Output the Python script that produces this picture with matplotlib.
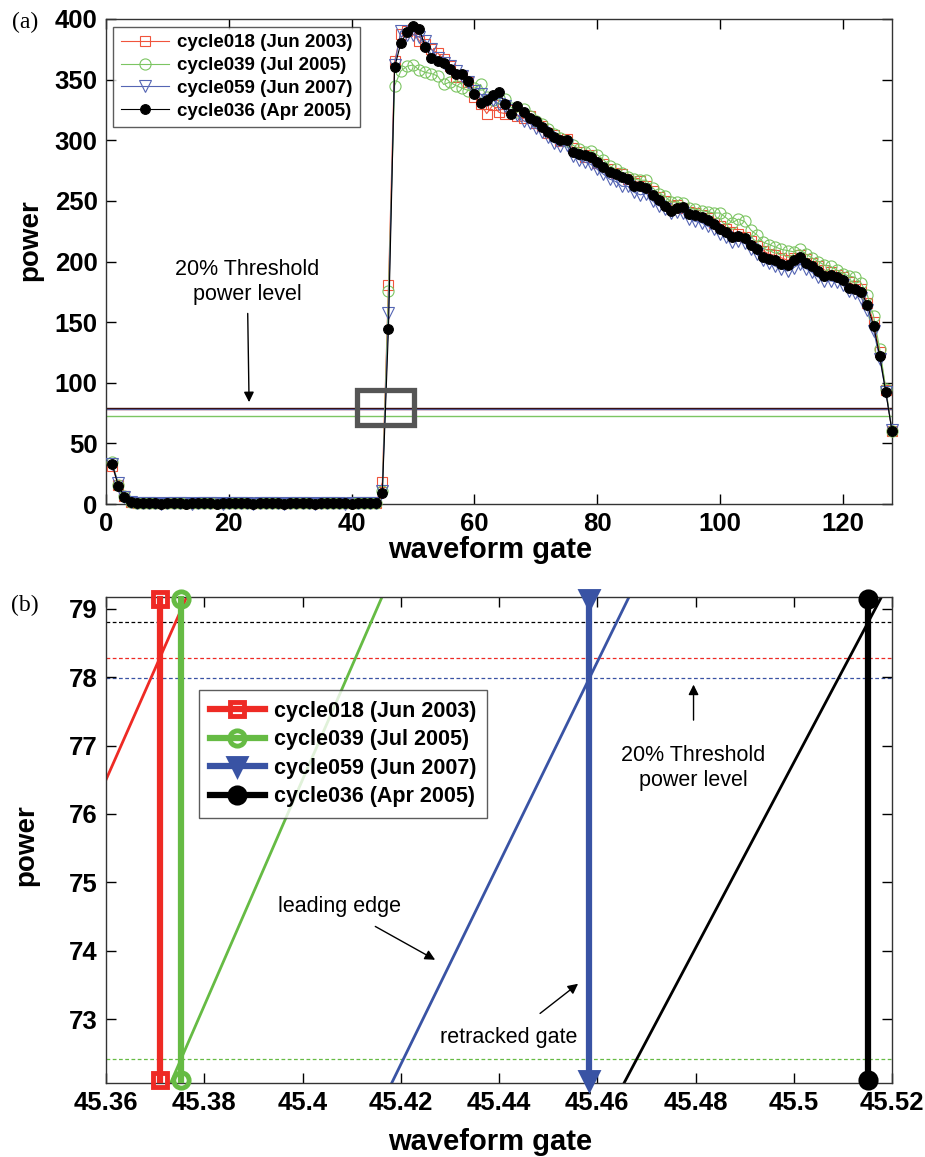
import matplotlib.pyplot as plt
from matplotlib.patches import Rectangle
import numpy as np

plt.rcParams['font.family'] = ['Liberation Sans', 'DejaVu Sans']

# ---- data ----
gates = np.arange(1, 129)

cycle018 = [31, 16, 7, 2,
            0.9, 0.7, 0.8, 0.6, 0.7, 0.8, 0.7, 0.6, 0.8, 0.7, 0.7, 0.8, 0.6, 0.7, 0.8, 0.7, 0.7, 0.6, 0.8, 0.7,
            0.7, 0.8, 0.6, 0.7, 0.7, 0.8, 0.7, 0.6, 0.8, 0.7, 0.7, 0.8, 0.6, 0.7, 0.8, 0.7, 0.7, 0.6, 0.8, 0.9,
            18, 180.5, 365, 388, 390, 391.4, 382, 379, 375, 372,
            367, 361, 352, 353, 348, 336, 330, 322, 329, 323,
            322, 325, 320, 318, 320, 314, 312, 306, 304, 299,
            301, 294, 290, 286, 288, 281, 280, 276, 273, 272,
            268, 265, 266, 262, 258, 253, 250, 246, 247, 244,
            241, 240, 238, 236, 232, 229, 227, 224, 223, 220,
            217, 213, 209, 206, 205, 203, 201, 203, 205, 202,
            199, 196, 193, 191, 189, 187, 183, 180, 177, 166,
            150, 125, 94, 60]

cycle039 = [35, 16, 7, 2,
            1.0, 0.8, 0.7, 0.8, 0.9, 0.7, 0.8, 0.8, 0.7, 0.9, 0.8, 0.7, 0.8, 0.8, 0.9, 0.7, 0.8, 0.8, 0.7, 0.9,
            0.8, 0.7, 0.8, 0.8, 0.9, 0.7, 0.8, 0.8, 0.7, 0.9, 0.8, 0.7, 0.8, 0.8, 0.9, 0.7, 0.8, 0.8, 0.7, 1.0,
            10.5, 175.5, 345, 357, 361, 362.1, 358, 356, 355, 353,
            346, 348, 345, 343, 341, 343, 346, 336, 333, 335,
            334, 327, 323, 326, 320, 316, 313, 309, 305, 302,
            299, 296, 293, 290, 291, 288, 284, 279, 276, 273,
            270, 268, 267, 267, 261, 256, 254, 249, 249, 248,
            244, 243, 242, 241, 240, 240, 236, 232, 235, 233,
            226, 222, 216, 214, 212, 210, 209, 208, 210, 206,
            203, 200, 197, 196, 193, 190, 188, 187, 182, 172,
            155, 128, 95, 60]

cycle059 = [33, 17, 6, 2,
            0.8, 0.5, 0.6, 0.5, 0.4, 0.6, 0.5, 0.5, 0.6, 0.4, 0.5, 0.6, 0.5, 0.5, 0.4, 0.6, 0.5, 0.5, 0.6, 0.4,
            0.5, 0.6, 0.5, 0.5, 0.4, 0.6, 0.5, 0.5, 0.6, 0.4, 0.5, 0.6, 0.5, 0.5, 0.4, 0.6, 0.5, 0.5, 0.6, 0.8,
            10.6, 157.6, 362, 389.9, 387, 387, 385, 382, 375, 368,
            364, 361, 357, 353, 348, 341, 338, 333, 333, 330,
            328, 325, 321, 316, 314, 310, 307, 303, 298, 295,
            296, 287, 284, 282, 280, 276, 272, 268, 266, 262,
            262, 257, 255, 256, 250, 246, 243, 240, 241, 240,
            235, 233, 232, 229, 227, 223, 220, 216, 217, 215,
            210, 206, 201, 199, 196, 194, 192, 195, 198, 194,
            191, 187, 184, 184, 183, 181, 176, 174, 170, 160,
            143, 120, 92, 61]

cycle036 = [33, 15, 6, 2,
            1.0, 0.6, 0.5, 0.5, 0.4, 0.5, 0.6, 0.5, 0.4, 0.5, 0.5, 0.6, 0.5, 0.4, 0.5, 0.5, 0.6, 0.5, 0.5, 0.4,
            0.5, 0.6, 0.5, 0.5, 0.4, 0.5, 0.5, 0.6, 0.5, 0.4, 0.5, 0.5, 0.6, 0.5, 0.5, 0.4, 0.5, 0.6, 0.5, 0.8,
            9, 144.5, 360, 380, 389, 394, 392, 377, 368, 365,
            364, 359, 355, 355, 349, 338, 331, 333, 337, 340,
            330, 322, 328, 323, 318, 316, 311, 307, 303, 300,
            300, 290, 289, 288, 286, 282, 278, 274, 272, 270,
            268, 262, 262, 261, 255, 251, 246, 242, 244, 245,
            239, 238, 237, 234, 231, 227, 224, 220, 221, 219,
            214, 210, 204, 202, 201, 198, 197, 201, 204, 199,
            196, 192, 188, 189, 187, 185, 178, 177, 175, 164,
            147, 122, 92, 60]

labels = ['cycle018 (Jun 2003)', 'cycle039 (Jul 2005)',
          'cycle059 (Jun 2007)', 'cycle036 (Apr 2005)']
series = [cycle018, cycle039, cycle059, cycle036]
threshold_frac = 0.2

# ---- styles ----
top_colors = ['#f0543c', '#7cc562', '#5566b4', '#000000']
bot_colors = ['#ee2a24', '#66bb44', '#3953a4', '#000000']
markers = ['s', 'o', 'v', 'o']
top_ms = [7, 8, 8, 7]
top_face = ['none', 'none', 'none', 'black']
bot_ms = [9.5, 11, 11, 11]
bot_face = ['none', 'none', '#3953a4', 'black']

fig = plt.figure(figsize=(9.25, 11.57), dpi=100)
ax1 = fig.add_axes([106 / 925, 1 - 504 / 1157, 786 / 925, 485 / 1157])
ax2 = fig.add_axes([106 / 925, 1 - 1083 / 1157, 786 / 925, 486 / 1157])

# ---------------- (a) full waveforms ----------------
thresholds = [threshold_frac * max(s) for s in series]

for thr, c in zip([thresholds[0], thresholds[2], thresholds[3], thresholds[1]],
                  [top_colors[0], top_colors[2], '#3a1010', top_colors[1]]):
    ax1.axhline(thr, color=c, lw=1.0, zorder=1)

for s, c, m, ms, fc, lab in zip(series, top_colors, markers, top_ms, top_face, labels):
    ax1.plot(gates, s, color=c, lw=0.8, marker=m, ms=ms, mfc=fc, mec=c,
             mew=0.8, label=lab, clip_on=False, zorder=3)

ax1.add_patch(Rectangle((40.9, 65.5), 9.3, 28.5, fill=False, ec='#555555',
                        lw=3.8, zorder=4))

ax1.annotate('20% Threshold\npower level', xy=(23.3, 84), xytext=(23.0, 183),
             ha='center', va='center', fontsize=15.5, linespacing=1.25,
             arrowprops=dict(arrowstyle='-|>', color='black', lw=1.0,
                             mutation_scale=15, shrinkA=4, shrinkB=0))

ax1.set_xlim(0, 128)
ax1.set_ylim(0, 400)
ax1.set_xticks(np.arange(0, 121, 20))
ax1.set_yticks(np.arange(0, 401, 50))
ax1.set_xlabel('waveform gate', fontsize=21, fontweight='bold')
ax1.set_ylabel('power', fontsize=20, fontweight='bold')
ax1.xaxis.set_label_coords(0.4885, -0.066)
ax1.yaxis.set_label_coords(-0.080, 0.544)
leg1 = ax1.legend(loc='upper left', bbox_to_anchor=(0.009, 0.984), borderaxespad=0,
                  numpoints=1, prop=dict(size=13.5, weight='bold'), fancybox=False,
                  edgecolor='#333333', handlelength=2.6, handletextpad=0.4,
                  labelspacing=0.3, borderpad=0.4)
leg1.get_frame().set_linewidth(1.0)

# ---------------- (b) zoom on leading edge ----------------
span = [72.12, 79.14]
for s, c, m, ms, fc, lab, thr in zip(series, bot_colors, markers, bot_ms, bot_face,
                                     labels, thresholds):
    p45, p46 = s[44], s[45]
    retracked = 45 + (thr - p45) / (p46 - p45)
    ax2.plot(gates[44:46], [p45, p46], color=c, lw=2.0, zorder=2)
    ax2.axhline(thr, color=c, lw=0.9, ls=(0, (3, 2)), zorder=1)
    ax2.plot([retracked, retracked], span, color=c, lw=4.5, marker=m, ms=ms,
             mfc=fc, mec=c, mew=3.5, label=lab, clip_on=False, zorder=5)

ax2.annotate('20% Threshold\npower level', xy=(45.4796, 77.89), xytext=(45.4796, 76.67),
             ha='center', va='center', fontsize=15.5, linespacing=1.25,
             arrowprops=dict(arrowstyle='-|>', color='black', lw=1.0,
                             mutation_scale=15, shrinkA=16, shrinkB=0))
ax2.annotate('leading edge', xy=(45.4270, 73.87), xytext=(45.4075, 74.65),
             ha='center', va='center', fontsize=15.5,
             arrowprops=dict(arrowstyle='-|>', color='black', lw=1.0,
                             mutation_scale=15, shrinkA=10, shrinkB=0))
ax2.annotate('retracked gate', xy=(45.4561, 73.52), xytext=(45.4420, 72.73),
             ha='center', va='center', fontsize=15.5,
             arrowprops=dict(arrowstyle='-|>', color='black', lw=1.0,
                             mutation_scale=15, shrinkA=13, shrinkB=0))

ax2.set_xlim(45.36, 45.52)
ax2.set_ylim(72.07, 79.17)
ax2.set_xticks([45.36, 45.38, 45.40, 45.42, 45.44, 45.46, 45.48, 45.50, 45.52])
ax2.set_xticklabels(['45.36', '45.38', '45.4', '45.42', '45.44', '45.46',
                     '45.48', '45.5', '45.52'])
ax2.set_yticks(np.arange(73, 80))
ax2.set_xlabel('waveform gate', fontsize=21, fontweight='bold')
ax2.set_ylabel('power', fontsize=20, fontweight='bold')
ax2.xaxis.set_label_coords(0.4885, -0.092)
ax2.yaxis.set_label_coords(-0.085, 0.49)
leg2 = ax2.legend(loc='upper left', bbox_to_anchor=(0.118, 0.809), borderaxespad=0,
                  numpoints=1, prop=dict(size=15.5, weight='bold'), fancybox=False,
                  edgecolor='#333333', handlelength=2.6, handletextpad=0.4,
                  labelspacing=0.35, borderpad=0.5)
leg2.get_frame().set_linewidth(1.0)

for ax in (ax1, ax2):
    ax.tick_params(direction='in', top=True, right=True, length=7, width=1,
                   labelsize=18.5, pad=6)
    for lbl in ax.get_xticklabels() + ax.get_yticklabels():
        lbl.set_fontweight('bold')
    for sp in ax.spines.values():
        sp.set_color('#333333')
        sp.set_linewidth(1.0)

fig.text(25 / 925, 1 - 22 / 1157, '(a)', family='Liberation Serif', fontsize=17,
         ha='center', va='center')
fig.text(25 / 925, 1 - 605 / 1157, '(b)', family='Liberation Serif', fontsize=17,
         ha='center', va='center')

plt.savefig('out.png', dpi=100)
plt.close()
